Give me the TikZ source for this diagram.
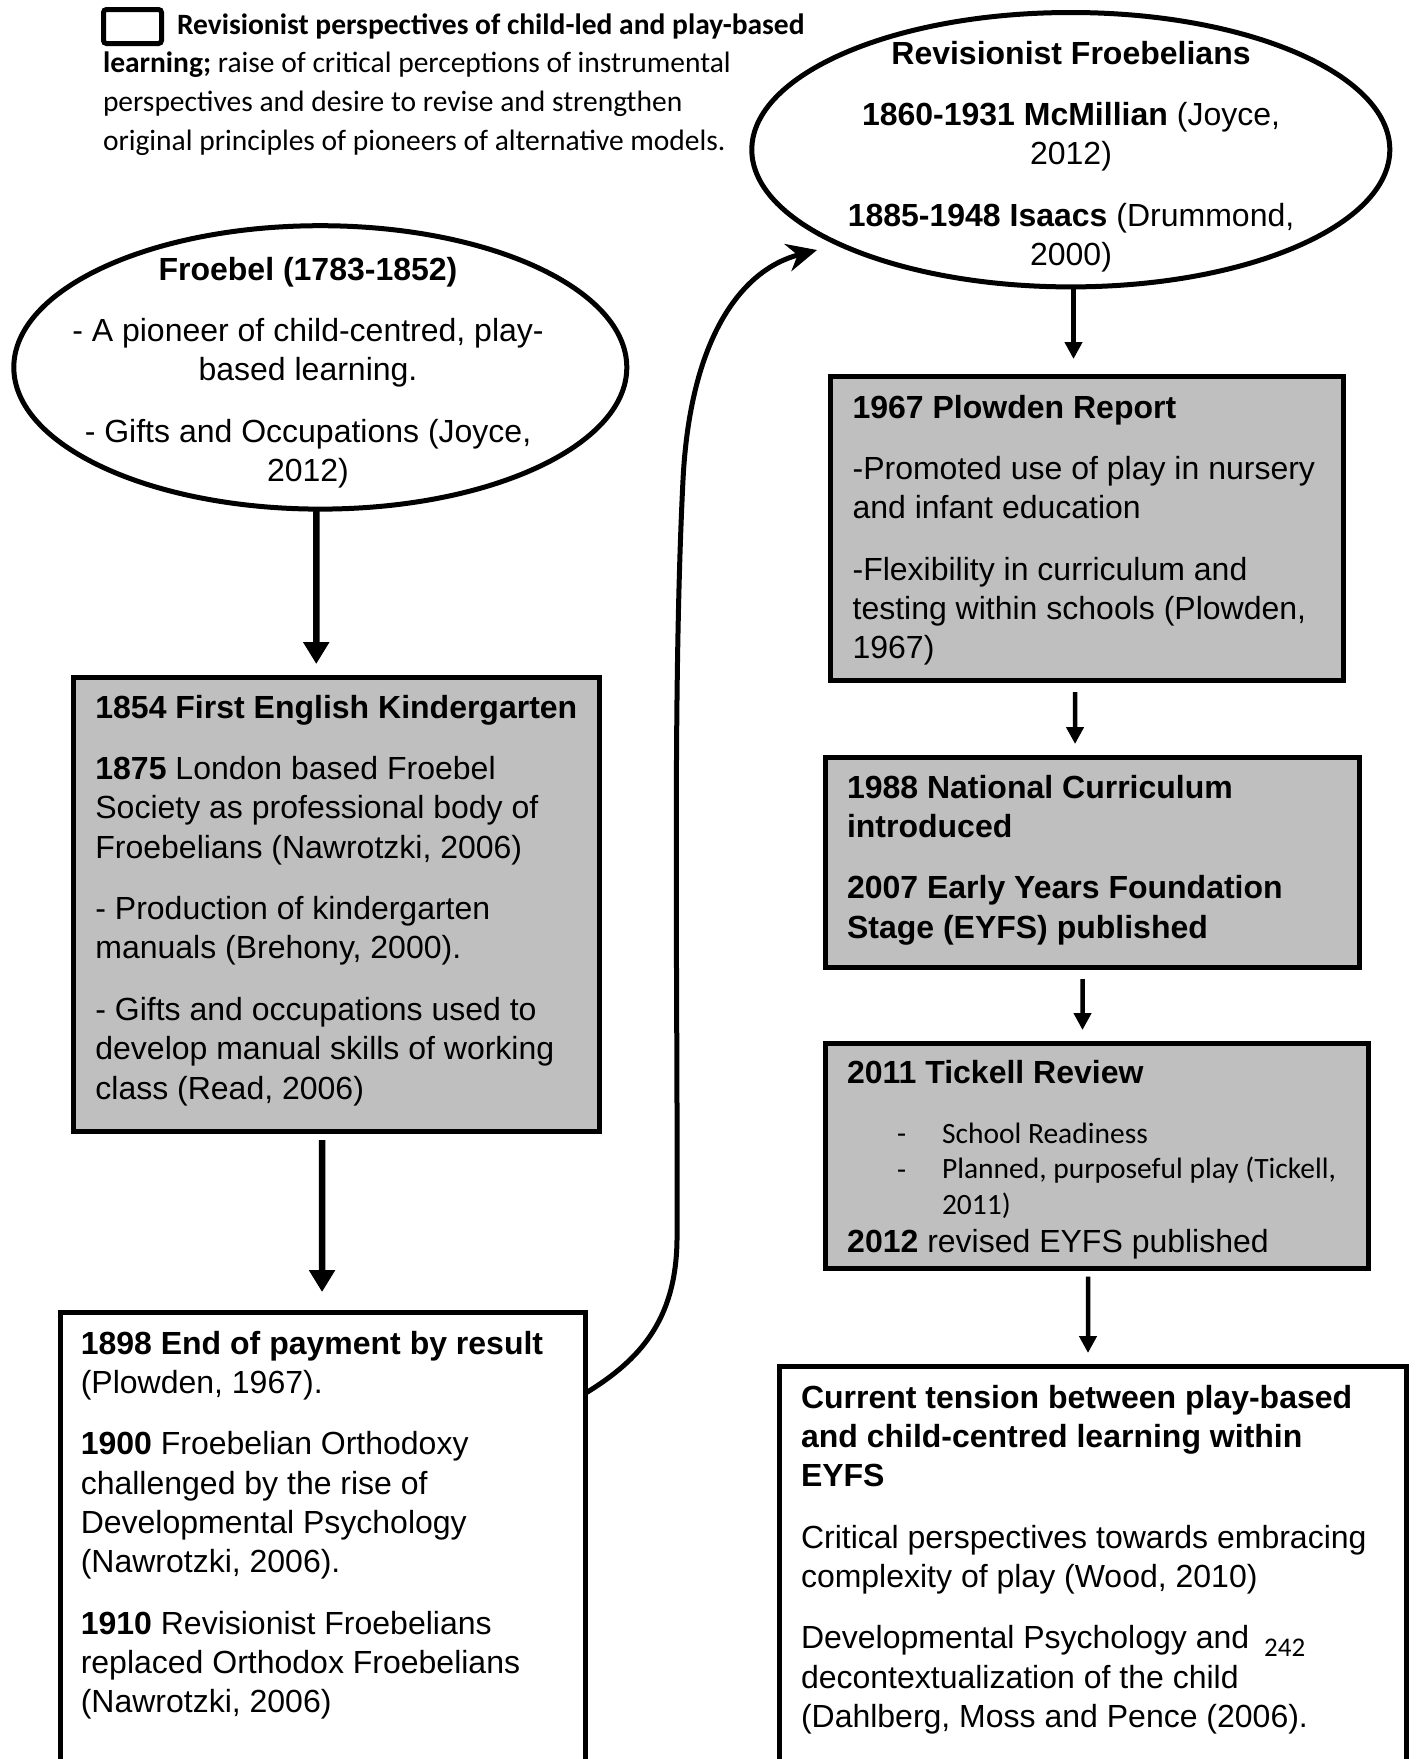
\documentclass[tikz,border=0pt]{standalone}
\usepackage{fontspec}
\setmainfont{Liberation Sans}
\newfontfamily\calibrifont{Carlito}
\usetikzlibrary{arrows.meta,shapes.geometric}
\definecolor{boxgrey}{RGB}{191,191,191}
% fixed first-line height so that a block's top edge sits a known distance above its first baseline
\newcommand{\capstrut}{\rule{0pt}{26pt}}
\newcommand{\calstrut}{\rule{0pt}{24pt}}

\begin{document}
\begin{tikzpicture}[x=1pt,y=1pt,
  panel/.style={draw=black, line width=5pt, rectangle, inner sep=0pt, outer sep=0pt, anchor=north west},
  greypanel/.style={panel, fill=boxgrey},
  oval/.style={draw=black, line width=5pt, ellipse, inner sep=0pt, outer sep=0pt, fill=white},
  body/.style={inner sep=0pt, outer sep=0pt, align=left, anchor=north west,
    font=\fontsize{32pt}{39.3pt}\selectfont},
  cbody/.style={body, align=center, anchor=north},
  calbody/.style={inner sep=0pt, outer sep=0pt, align=left, anchor=north west,
    font=\calibrifont\fontsize{29.5pt}{35.5pt}\selectfont},
  bigarrow/.style={line width=6.5pt, -{Triangle[length=22pt,width=25pt]}},
  smallarrow/.style={line width=4.5pt, -{Triangle[length=17pt,width=17pt]}},
  curvearrow/.style={line width=5pt, -{Stealth[length=30pt,width=28pt,inset=10pt]}},
]
\useasboundingbox (0,0) rectangle (1418,-1759);
\clip (0,0) rectangle (1418,-1759);

% ---------- key ----------
\node[draw=black, line width=5pt, rounded corners=3pt, inner sep=0pt, outer sep=0pt,
  anchor=north west, minimum width=58pt, minimum height=34pt] (keybox) at (103.5,-9.5) {};
\node[calbody, font=\calibrifont\fontsize{29.5pt}{38.8pt}\selectfont] (keytext) at (103,-10)
  {\calstrut\hspace*{74pt}\textbf{Revisionist perspectives of child-led and play-based}\\
   \textbf{learning;} raise of critical perceptions of instrumental\\
   perspectives and desire to revise and strengthen\\
   original principles of pioneers of alternative models.};

% ---------- left column ----------
\node[oval, minimum width=613pt, minimum height=283.4pt] (froebel) at (320.3,-367.4) {};
\node[cbody] (froebeltext) at (308,-254)
  {\capstrut\textbf{Froebel (1783-1852)}\\[22.2pt]
   - A pioneer of child-centred, play-\\
   based learning.\\[22.2pt]
   - Gifts and Occupations (Joyce,\\
   2012)};

\node[greypanel, minimum width=526.7pt, minimum height=453.8pt] (kinder) at (73.2,-677.8) {};
\node[body] (kindertext) at (95.4,-692)
  {\capstrut\textbf{1854 First English Kindergarten}\\[22.2pt]
   \textbf{1875} London based Froebel\\
   Society as professional body of\\
   Froebelians (Nawrotzki, 2006)\\[22.2pt]
   - Production of kindergarten\\
   manuals (Brehony, 2000).\\[22.2pt]
   - Gifts and occupations used to\\
   develop manual skills of working\\
   class (Read, 2006)};

\node[panel, fill=white, minimum width=524.5pt, minimum height=520pt] (payment) at (60.8,-1312.8) {};
\node[body] (paymenttext) at (80.8,-1328)
  {\capstrut\textbf{1898 End of payment by result}\\
   (Plowden, 1967).\\[22.2pt]
   \textbf{1900} Froebelian Orthodoxy\\
   challenged by the rise of\\
   Developmental Psychology\\
   (Nawrotzki, 2006).\\[22.2pt]
   \textbf{1910} Revisionist Froebelians\\
   replaced Orthodox Froebelians\\
   (Nawrotzki, 2006)};

% ---------- right column ----------
\node[oval, minimum width=638pt, minimum height=274.4pt] (revis) at (1070.8,-149.7) {};
\node[cbody] (revistext) at (1071,-38)
  {\capstrut\textbf{Revisionist Froebelians}\\[22.2pt]
   \textbf{1860-1931 McMillian} (Joyce,\\
   2012)\\[22.2pt]
   \textbf{1885-1948 Isaacs} (Drummond,\\
   2000)};

\node[greypanel, minimum width=513pt, minimum height=304.6pt] (plowden) at (830.5,-376.1) {};
\node[body] (plowdentext) at (852.6,-392)
  {\capstrut\textbf{1967 Plowden Report}\\[22.2pt]
   -Promoted use of play in nursery\\
   and infant education\\[22.2pt]
   -Flexibility in curriculum and\\
   testing within schools (Plowden,\\
   1967)};

\node[greypanel, minimum width=533.5pt, minimum height=210.4pt] (natcurr) at (825.9,-757.5) {};
\node[body] (natcurrtext) at (847,-772)
  {\capstrut\textbf{1988 National Curriculum}\\
   \textbf{introduced}\\[22.2pt]
   \textbf{2007 Early Years Foundation}\\
   \textbf{Stage (EYFS) published}};

\node[greypanel, minimum width=542.4pt, minimum height=225pt] (tickell) at (825.9,-1043.5) {};
\node[body] (tickelltitle) at (847,-1057) {\capstrut\textbf{2011 Tickell Review}};
\node[inner sep=0pt, anchor=base west, font=\calibrifont\fontsize{29.5pt}{35.5pt}\selectfont]
  (dashone) at (897,-1143) {-};
\node[inner sep=0pt, anchor=base west, font=\calibrifont\fontsize{29.5pt}{35.5pt}\selectfont]
  (dashtwo) at (897,-1179) {-};
\node[calbody] (tickellitems) at (942,-1119)
  {\calstrut School Readiness\\
   Planned, purposeful play (Tickell,\\
   2011)};
\node[inner sep=0pt, anchor=base west, font=\fontsize{32pt}{39.3pt}\selectfont]
  (eyfsrevised) at (847,-1252) {\textbf{2012} revised EYFS published};

\node[panel, fill=white, minimum width=626.6pt, minimum height=520pt] (tension) at (779.9,-1366.5) {};
\node[body] (tensiontext) at (801,-1382)
  {\capstrut\textbf{Current tension between play-based}\\
   \textbf{and child-centred learning within}\\
   \textbf{EYFS}\\[22.2pt]
   Critical perspectives towards embracing\\
   complexity of play (Wood, 2010)\\[22.2pt]
   Developmental Psychology and\\
   decontextualization of the child\\
   (Dahlberg, Moss and Pence (2006).};
\node[inner sep=0pt, anchor=base west, font=\calibrifont\fontsize{27pt}{32pt}\selectfont]
  (pagenum) at (1264,-1656) {242};

% ---------- connectors ----------
\draw[bigarrow] ([xshift=-4pt]froebel.south) -- ([xshift=-20.3pt,yshift=13.8pt]kinder.north);
\draw[bigarrow] ([xshift=-14.5pt,yshift=-8.4pt]kinder.south) -- ([xshift=-1pt,yshift=20.8pt]payment.north);

\draw[smallarrow] ([xshift=2.7pt]revis.south) -- ([xshift=-13.5pt,yshift=17.1pt]plowden.north);
\draw[smallarrow] ([xshift=-12pt,yshift=-11.3pt]plowden.south) -- ([xshift=-17.6pt,yshift=13.5pt]natcurr.north);
\draw[smallarrow] ([xshift=-10.1pt,yshift=-11.1pt]natcurr.south) -- ([xshift=-14.6pt,yshift=13.5pt]tickell.north);
\draw[smallarrow] ([xshift=-9.1pt,yshift=-8.1pt]tickell.south) -- ([xshift=-5.2pt,yshift=13.5pt]tension.north);

\coordinate (curvetip) at (817,-250);
\draw[curvearrow] ([yshift=-80.5pt]payment.north east)
  .. controls (640,-1360) and (676,-1320) .. (677,-1240)
  .. controls (678,-1000) and (672,-700) .. (683,-480)
  .. controls (690,-340) and (740,-270) .. (curvetip);
\end{tikzpicture}
\end{document}
